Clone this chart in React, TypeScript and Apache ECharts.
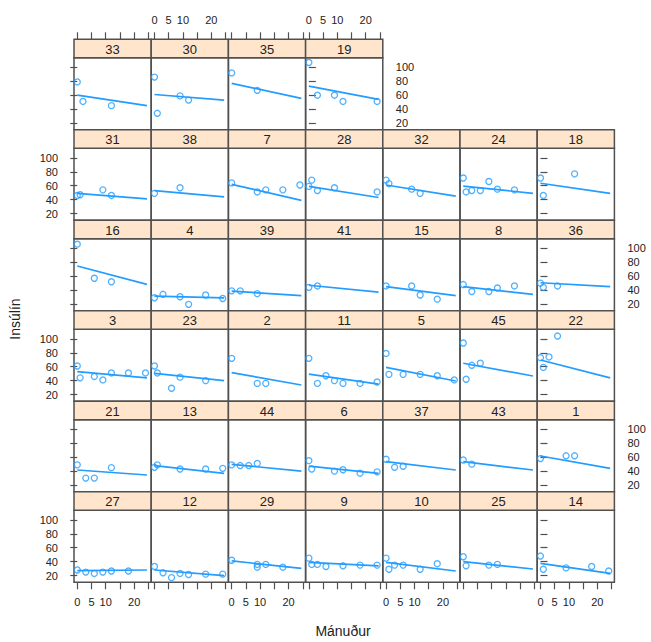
import React, { useEffect, useRef } from "react";
import * as echarts from "echarts";

// Panel labels (subject ids), rows top to bottom, left to right
const panelRows: string[][] = [
  ["33", "30", "35", "19"],
  ["31", "38", "7", "28", "32", "24", "18"],
  ["16", "4", "39", "41", "15", "8", "36"],
  ["3", "23", "2", "11", "5", "45", "22"],
  ["21", "13", "44", "6", "37", "43", "1"],
  ["27", "12", "29", "9", "10", "25", "14"],
];

// Months (x) per panel, flattened in the same order as panelRows
const months: number[][] = [
  [0, 2, 12], [0, 1, 9, 12], [0, 9], [0, 3, 9, 12, 24],
  [0, 1, 9, 12], [0, 9], [0, 9, 12, 18, 24], [0, 1, 3, 9, 24], [0, 1, 9, 12], [0, 1, 3, 6, 9, 12, 18], [0, 1, 12],
  [0, 6, 12], [0, 3, 9, 12, 18, 24], [0, 3, 9], [0, 3], [0, 9, 12, 18], [0, 3, 9, 12, 18], [0, 1, 6],
  [0, 1, 6, 9, 12, 18, 24], [0, 1, 6, 9, 18], [0, 9, 12], [0, 3, 6, 9, 12, 18, 24], [0, 1, 6, 12, 18, 24], [0, 1, 3, 6], [0, 1, 3, 6],
  [0, 3, 6, 12], [0, 1, 9, 18, 24], [0, 3, 6, 9], [0, 1, 9, 12, 18, 24], [0, 3, 6], [0, 3], [0, 9, 12],
  [0, 3, 6, 9, 12, 18], [0, 3, 6, 9, 12, 18, 24], [0, 9, 9, 12, 18], [0, 1, 3, 6, 12, 18, 24], [0, 1, 3, 6, 12, 18], [0, 1, 9, 12], [0, 1, 9, 18, 24],
];

// Insulin (y) per panel
const insulin: number[][] = [
  [79, 51, 45], [86, 34, 59, 53], [92, 67], [107, 60, 60, 51, 51],
  [46, 47, 54, 46], [49, 57], [64, 51, 54, 54, 61], [59, 68, 53, 57, 51], [68, 63, 55, 49], [71, 51, 53, 53, 66, 55, 54], [71, 46, 77],
  [106, 57, 52], [29, 34, 30.5, 19.6, 33, 28], [39, 39, 35], [44, 46], [46, 46, 33, 27], [48, 38, 38, 43, 46], [50, 44, 46],
  [61, 44, 46, 41, 51, 51, 51], [61, 51, 29, 45, 40], [72, 36, 36], [72, 36, 47, 40, 36, 36, 38], [79, 49, 49, 49, 47, 41], [94, 42, 62, 65], [73, 59, 74, 104],
  [49, 30, 30, 45], [45.5, 49, 43, 43, 44], [49, 48, 48, 51], [55, 43, 40, 42, 37, 39], [57, 45.5, 47], [56, 50], [58, 62, 62],
  [28, 25, 23, 25, 26.5, 26.5], [33, 24, 17, 23, 21.5, 22, 22], [42, 32, 36, 36, 32], [45, 36, 36, 33, 34, 35, 35], [45, 29, 35, 35, 29, 37], [47, 34, 35, 36], [48, 29, 31, 33, 26.5],
];

// Fitted line values at month 0 and at the end month, per panel
const fitStart: number[] = [
  60, 61, 77, 73,
  49, 53, 62, 59, 61, 59.5, 63.5,
  74.6, 31.5, 38.6, 47, 45, 45, 50.6,
  53, 50.5, 51.4, 49.4, 59, 65, 69.6,
  41.6, 47.8, 49.8, 47.3, 53.5, 53.5, 61.7,
  27, 28, 41, 39, 39, 40, 37.5,
];
const fitEnd: number[] = [
  45, 53, 55.5, 54,
  41, 44, 39, 43, 45, 49, 49,
  48.3, 29, 32, 37, 32, 34, 45,
  44, 40, 33.7, 35, 39.5, 46.6, 44,
  34.4, 36.8, 40, 36.8, 41.6, 41.6, 44,
  28, 20, 30.4, 34, 26.5, 29.4, 23,
];
const fitMonths: number[] = [0, 24.5];

const xTicks: number[] = [0, 5, 10, 15, 20, 25];
const xTickLabels: number[] = [0, 5, 10, 20];
const yTicks: number[] = [20, 40, 60, 80, 100];

const xTitle = "Mánuður";
const yTitle = "Insúlín";

export default function App() {
  const ref = useRef<HTMLDivElement>(null);
  useEffect(() => {
    if (!ref.current) return;
    const chart = echarts.init(ref.current, undefined, { renderer: "svg" });

    const COL0 = 74, COLW = 77.2, ROW0 = 39.3, ROWH = 90.5, STRIP = 18.5, PLOTH = 72;
    const XMIN = -1.15, XMAX = 26, YMIN = 10.3, YMAX = 113.7;
    const BLUE = "#229cff";
    const FRAME = "#505050";
    const TXT = "#222222";
    const FONT = "Liberation Sans, Arial, sans-serif";
    const nRows = panelRows.length;

    const grids: any[] = [];
    const xAxes: any[] = [];
    const yAxes: any[] = [];
    const series: any[] = [];
    const graphics: any[] = [];

    let k = 0;
    panelRows.forEach((row, r) => {
      row.forEach((label, c) => {
        const left = COL0 + c * COLW;
        const stripTop = ROW0 + r * ROWH;
        const top = stripTop + STRIP;
        grids.push({
          left, top, width: COLW, height: PLOTH,
          show: true, borderColor: FRAME, borderWidth: 1.5, backgroundColor: "transparent",
        });
        const isTop = r === 0;
        const isBottom = r === nRows - 1;
        const showXLab = (isTop && c % 2 === 1) || (isBottom && c % 2 === 0);
        xAxes.push({
          gridIndex: k, type: "value", min: XMIN, max: XMAX,
          position: isTop ? "top" : "bottom",
          offset: isTop ? STRIP : 0,
          axisLine: { show: false },
          splitLine: { show: false },
          axisTick: { show: isTop || isBottom, inside: false, length: 7, lineStyle: { color: FRAME, width: 1.2 }, customValues: xTicks },
          axisLabel: { show: showXLab, customValues: xTickLabels, fontSize: 11, color: TXT, fontFamily: FONT, margin: 14 },
        });
        const isLeft = c === 0;
        const isRight = c === row.length - 1;
        const showYLab = (isLeft && r % 2 === 1) || (isRight && r % 2 === 0);
        yAxes.push({
          gridIndex: k, type: "value", min: YMIN, max: YMAX,
          position: isRight ? "right" : "left",
          axisLine: { show: false },
          splitLine: { show: false },
          axisTick: { show: isLeft || isRight, inside: false, length: 7, lineStyle: { color: FRAME, width: 1.2 }, customValues: yTicks },
          axisLabel: { show: showYLab, customValues: yTicks, fontSize: 11, color: TXT, fontFamily: FONT, margin: isRight ? 13 : 16 },
        });
        series.push({
          type: "line", xAxisIndex: k, yAxisIndex: k,
          data: [[fitMonths[0], fitStart[k]], [fitMonths[1], fitEnd[k]]],
          symbol: "none", lineStyle: { color: BLUE, width: 1.7 }, silent: true,
        });
        series.push({
          type: "scatter", xAxisIndex: k, yAxisIndex: k,
          data: months[k].map((m, i) => [m, insulin[k][i]]),
          symbol: "circle", symbolSize: 6,
          itemStyle: { color: "rgba(0,0,0,0)", borderColor: BLUE, borderWidth: 1.3 },
          silent: true,
        });
        graphics.push({
          type: "rect",
          shape: { x: left, y: stripTop, width: COLW, height: STRIP },
          style: { fill: "#ffe5cc", stroke: FRAME, lineWidth: 1.5 },
          z: 10,
        });
        graphics.push({
          type: "text",
          x: left + COLW / 2, y: stripTop + STRIP / 2 + 0.5,
          style: { text: label, fill: TXT, font: `13px ${FONT}`, align: "center", verticalAlign: "middle" },
          z: 11,
        });
        k++;
      });
    });

    graphics.push({
      type: "text", x: 343, y: 631,
      style: { text: xTitle, fill: TXT, font: `14px ${FONT}`, align: "center", verticalAlign: "middle" },
    });
    graphics.push({
      type: "text", x: 15, y: 319, rotation: Math.PI / 2,
      style: { text: yTitle, fill: TXT, font: `14px ${FONT}`, align: "center", verticalAlign: "middle" },
    });

    chart.setOption({
      animation: false,
      backgroundColor: "#ffffff",
      grid: grids,
      xAxis: xAxes,
      yAxis: yAxes,
      series,
      graphic: graphics,
    });
    return () => chart.dispose();
  }, []);

  return (
    <div
      ref={ref}
      style={{ position: "fixed", left: 0, top: 0, width: 651, height: 642 }}
    />
  );
}
